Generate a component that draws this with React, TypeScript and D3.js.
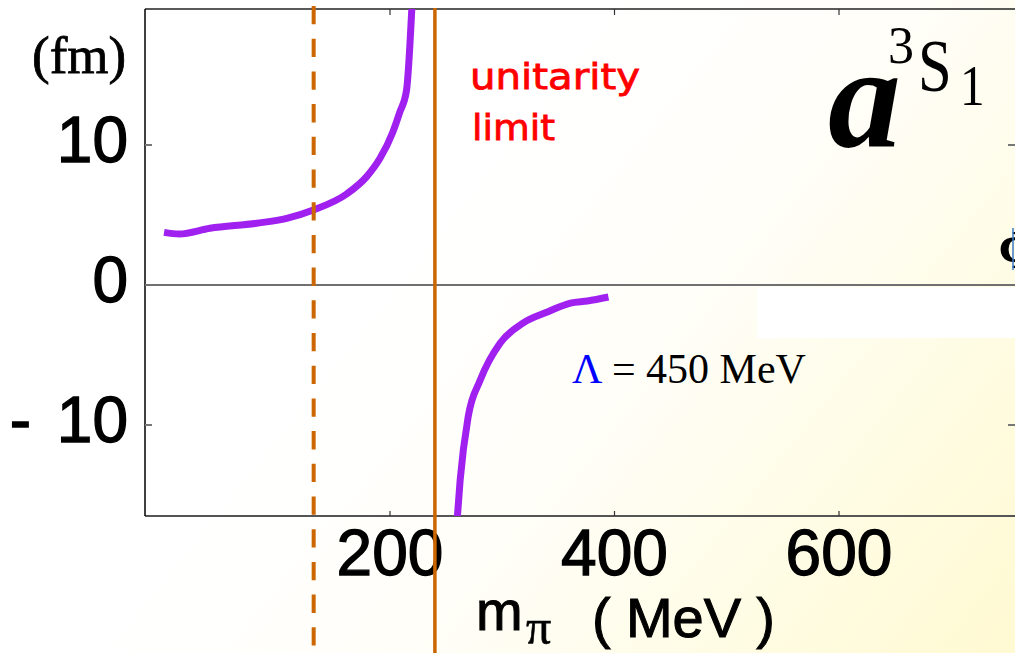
import React from "react";
import * as d3 from "d3";

// m_pi (MeV) and scattering length a (fm) – attractive branch
const upperMpi = [-1.3, 12.2, 39.6, 81.3, 108, 131.7, 161.4, 179.2, 191.1, 202.2, 208.5, 214.7, 219.6];
const upperA = [3.76, 3.64, 4.05, 4.41, 4.76, 5.36, 6.5, 7.74, 9.05, 10.86, 12.3, 13.9, 20.0];
// branch past the unitarity limit
const lowerMpi = [259.6, 262.5, 269.6, 280.4, 298.2, 318.8, 340.2, 360.7, 375.9, 394.6];
const lowerA = [-17, -13.93, -9.43, -6.79, -4.14, -2.71, -1.93, -1.29, -1.14, -0.86];

const physicalMpi = 132;
const unitarityMpi = 240;

const xTicks = [200, 400, 600];
const xTickLabels = ["200", "400", "600"];
const yTicks = [-10, 0, 10];
const yTickLabels = ["- 10", "0", "10"];

const W = 1015;
const H = 653;

export default function App() {
  const x = d3.scaleLinear().domain([0, 600]).range([165.5, 839]);
  const y = d3.scaleLinear().domain([10, -10]).range([145, 425]);
  const left = 145, right = W, top = 9, bottom = 516;

  const line = d3
    .line<[number, number]>()
    .x((d) => x(d[0]))
    .y((d) => y(d[1]))
    .curve(d3.curveMonotoneX);

  const upper = upperMpi.map((m, i) => [m, upperA[i]] as [number, number]);
  const lower = lowerMpi.map((m, i) => [m, lowerA[i]] as [number, number]);

  const sans = "'Liberation Sans', Arial, sans-serif";
  const serif = "'Liberation Serif', 'Times New Roman', serif";

  return (
    <svg
      width={W}
      height={H}
      style={{ position: "absolute", left: 0, top: 0, display: "block" }}
    >
      <defs>
        <linearGradient id="bg" gradientUnits="userSpaceOnUse" x1={450} y1={200} x2={1015} y2={650}>
          <stop offset="0" stopColor="#ffffff" />
          <stop offset="0.35" stopColor="#fffef8" />
          <stop offset="1" stopColor="#fffad2" />
        </linearGradient>
        <clipPath id="plot">
          <rect x={left} y={top} width={right - left} height={bottom - top} />
        </clipPath>
      </defs>
      <rect x={0} y={0} width={W} height={H} fill="url(#bg)" />
      <rect x={757} y={y(-0.15)} width={W - 757} height={51} fill="#ffffff" />

      {/* frame */}
      <line x1={left} x2={right} y1={top} y2={top} stroke="#222" strokeWidth={1.5} />
      <line x1={left} x2={right} y1={bottom} y2={bottom} stroke="#555" strokeWidth={2} />
      <line x1={left} x2={left} y1={top} y2={bottom} stroke="#000" strokeWidth={1.5} />
      <line x1={left} x2={right} y1={y(0)} y2={y(0)} stroke="#707070" strokeWidth={2} />

      {/* ticks */}
      {yTicks.filter((t) => t !== 0).map((t) => (
        <g key={"yt" + t}>
          <line x1={left} x2={left + 7} y1={y(t)} y2={y(t)} stroke="#777" strokeWidth={2} />
          <line x1={right - 7} x2={right} y1={y(t)} y2={y(t)} stroke="#777" strokeWidth={2} />
        </g>
      ))}
      {xTicks.map((t) => (
        <g key={"xt" + t}>
          <line x1={x(t)} x2={x(t)} y1={bottom} y2={bottom - 5} stroke="#333" strokeWidth={1.2} />
          <line x1={x(t)} x2={x(t)} y1={top} y2={top + 6} stroke="#333" strokeWidth={1.2} />
        </g>
      ))}

      {/* tick labels */}
      {yTicks.map((t, i) => (
        <text key={"yl" + t} x={128} y={y(t) + 17} textAnchor="end" fontFamily={sans} fontSize={64}
          fill="#000" stroke="#000" strokeWidth={1.3} wordSpacing={8}>
          {yTickLabels[i]}
        </text>
      ))}
      {xTicks.map((t, i) => (
        <text key={"xl" + t} x={x(t)} y={575} textAnchor="middle" fontFamily={sans} fontSize={64}
          fill="#000" stroke="#000" strokeWidth={1.3}>
          {xTickLabels[i]}
        </text>
      ))}

      {/* axis titles */}
      <text x={32} y={73} fontFamily={serif} fontSize={53} fill="#000" stroke="#000" strokeWidth={0.8}>(fm)</text>
      <text x={476} y={630} fontFamily={sans} fontSize={56} fill="#000" stroke="#000" strokeWidth={1}>m</text>
      <text x={526} y={644} fontFamily={serif} fontSize={50} fill="#000" stroke="#000" strokeWidth={0.6}>π</text>
      <text x={592} y={637} fontFamily={sans} fontSize={56} fill="#000" stroke="#000" strokeWidth={1}
        style={{ whiteSpace: "pre" }} textLength={183} lengthAdjust="spacing">( MeV )</text>

      {/* curves */}
      <g clipPath="url(#plot)">
        <path d={line(upper) || ""} fill="none" stroke="#a020f0" strokeWidth={7} />
        <path d={line(lower) || ""} fill="none" stroke="#a020f0" strokeWidth={7} />
      </g>

      {/* physical pion mass and unitarity limit */}
      <line x1={x(physicalMpi)} x2={x(physicalMpi)} y1={6} y2={H} stroke="#cc6600" strokeWidth={4} strokeDasharray="18.3,14.4" />
      <line x1={x(unitarityMpi)} x2={x(unitarityMpi)} y1={8} y2={H} stroke="#cc6600" strokeWidth={3.5} />

      {/* annotations */}
      <text x={470} y={89} fontFamily="'DejaVu Sans', sans-serif" fontSize={35} fill="#ff0000" stroke="#ff0000" strokeWidth={0.8}
        textLength={170} lengthAdjust="spacingAndGlyphs">unitarity</text>
      <text x={472} y={140} fontFamily="'DejaVu Sans', sans-serif" fontSize={35} fill="#ff0000" stroke="#ff0000" strokeWidth={0.8}
        textLength={83} lengthAdjust="spacingAndGlyphs">limit</text>

      <text x={572} y={383} fontFamily={serif} fontSize={42} fill="#000" style={{ whiteSpace: "pre" }}>
        <tspan fill="#0000ff">Λ</tspan>
        <tspan> = 450 MeV</tspan>
      </text>

      <text x={828} y={147} fontFamily={serif} fontSize={146} fontWeight="bold" fontStyle="italic" fill="#000">a</text>
      <text x={888} y={63} fontFamily={serif} fontSize={52} fill="#000">3</text>
      <text transform="translate(918,91) scale(0.82,1)" fontFamily={serif} fontSize={74} fill="#000">S</text>
      <text transform="translate(960,105) scale(0.85,1)" fontFamily={serif} fontSize={58} fill="#000">1</text>

      <text x={1021} y={268} textAnchor="middle" fontFamily={serif} fontWeight="bold" fontSize={54} fill="#000">Φ</text>
      <line x1={1013} x2={1013} y1={228} y2={270} stroke="#3a78c8" strokeWidth={1.5} />
    </svg>
  );
}
